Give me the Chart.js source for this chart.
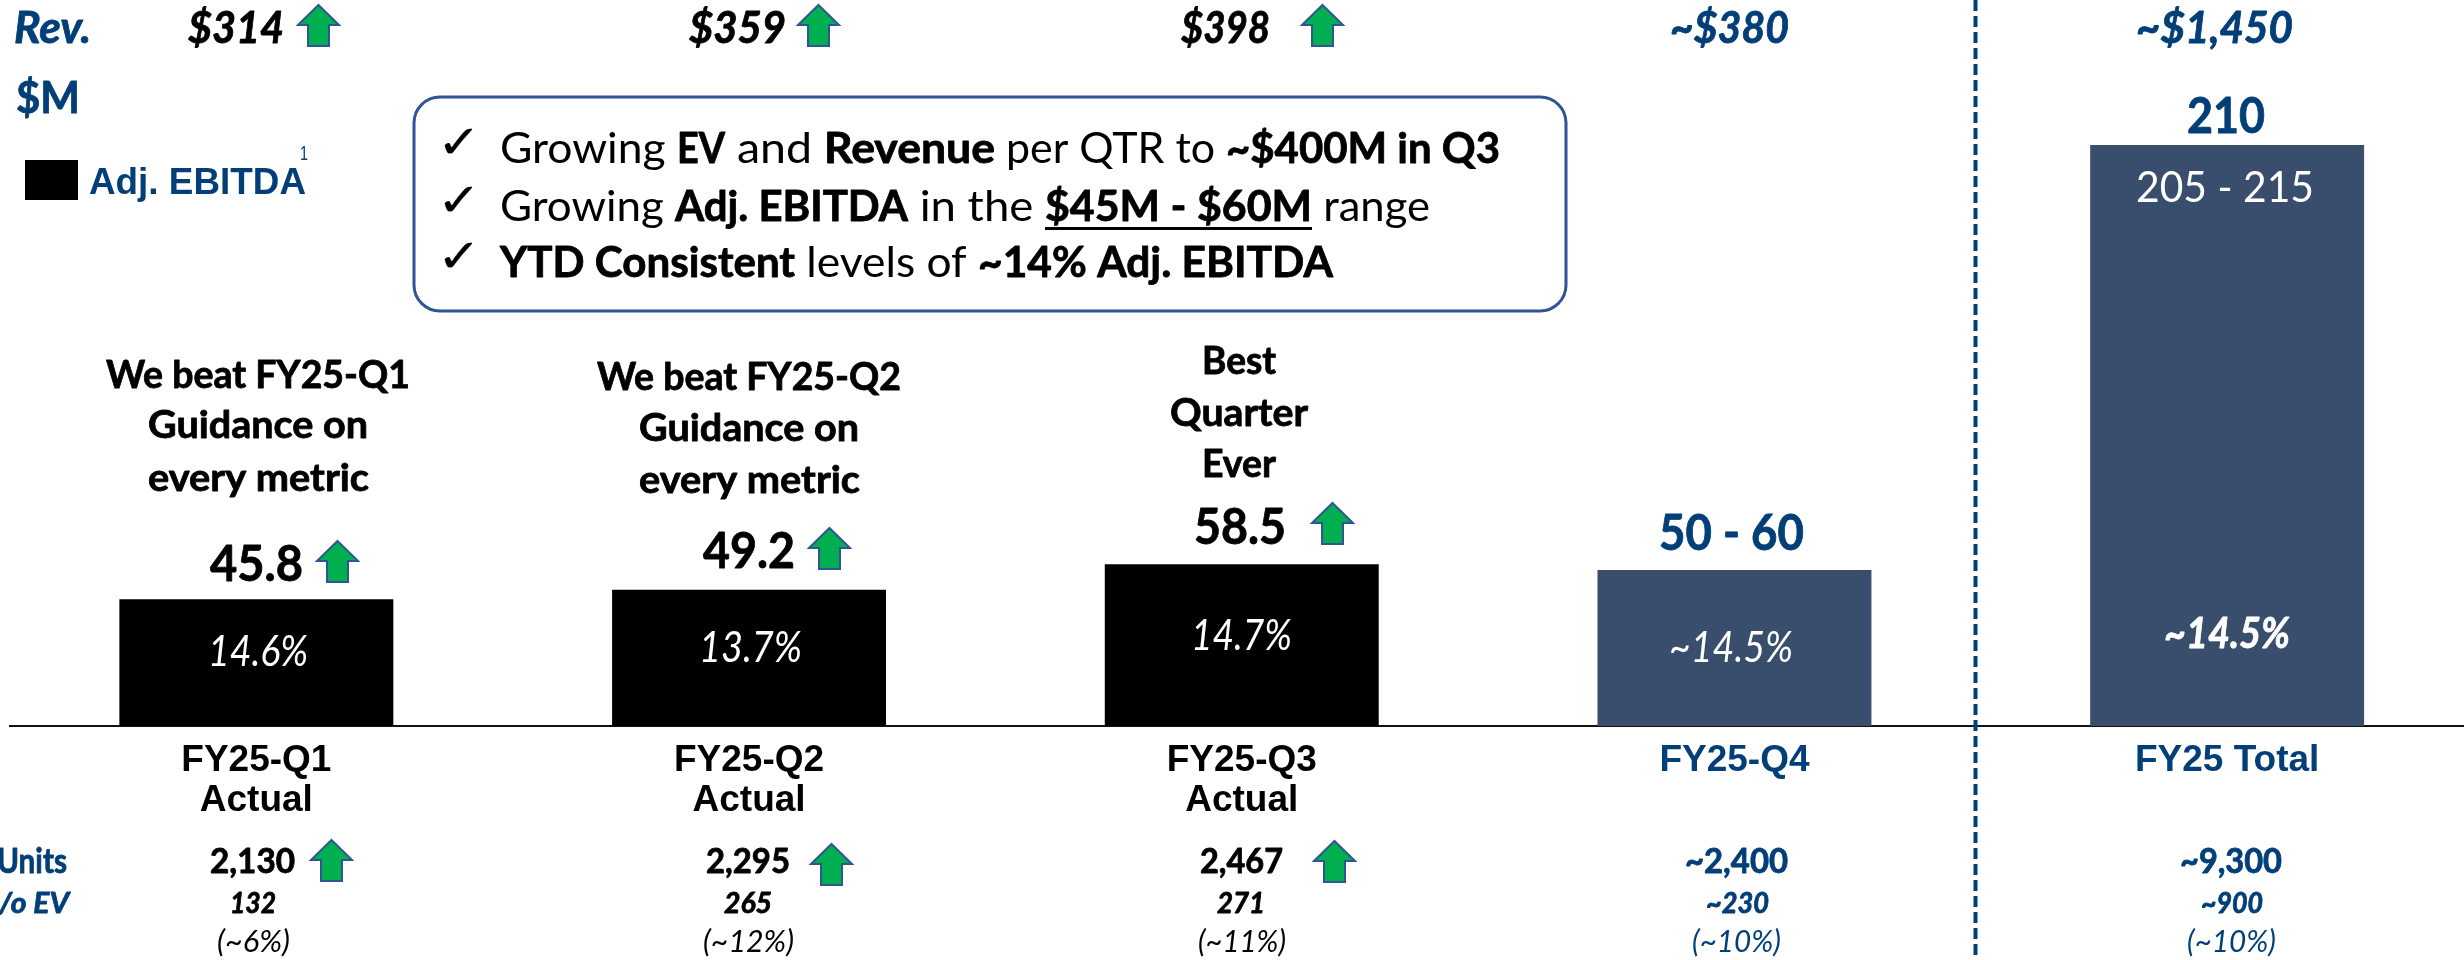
<!DOCTYPE html>
<html><head><meta charset="utf-8">
<script src="https://cdn.jsdelivr.net/npm/chart.js@4/dist/chart.umd.min.js"></script>
<style>html,body{margin:0;padding:0;background:#fff;overflow:hidden}canvas{display:block}</style>
</head><body>
<div style="position:relative;width:2464px;height:960px;overflow:hidden"><canvas id="c" width="2474" height="960"></canvas></div>
<script>
// ---- data ----
const categories = [['FY25-Q1','Actual'],['FY25-Q2','Actual'],['FY25-Q3','Actual'],'FY25-Q4','FY25 Total'];
const adjEbitda = [45.8, 49.2, 58.5, 56.4, 210];
const valueLabels = ['45.8','49.2','58.5','50 - 60','210'];
const marginLabels = ['14.6%','13.7%','14.7%','~14.5%','~14.5%'];
const revenueLabels = ['$314','$359','$398','~$380','~$1,450'];
const unitLabels = ['2,130','2,295','2,467','~2,400','~9,300'];
const evLabels = ['132','265','271','~230','~900'];
const evPctLabels = ['(~6%)','(~12%)','(~11%)','(~10%)','(~10%)'];
const noteLines = [['We beat FY25-Q1','Guidance on','every metric'],['We beat FY25-Q2','Guidance on','every metric'],['Best','Quarter','Ever']];
const boxLines = [
  [['Growing ',0],['EV',1],[' and ',0],['Revenue',1],[' per QTR to ',0],['~$400M in Q3',1]],
  [['Growing ',0],['Adj. EBITDA',1],[' in the ',0],['$45M - $60M',2],[' range',0]],
  [['YTD Consistent',1],[' levels of ',0],['~14% Adj. EBITDA',1]]
];
const rangeLabel = '205 - 215';
const seriesName = 'Adj. EBITDA';

// ---- styling / layout (not data) ----
const NAVY='#023f78', BAR='#394d6d', GREEN='#00B050', EDGE='#2F5597';
const barColors=['#000','#000','#000',BAR,BAR];
const ink=i=>i<3?'#000':NAVY;
const L=(s,w=400,it=false)=>`${it?'italic ':''}${w} ${s}px Lato`;
const A=(s)=>`700 ${s}px "Liberation Sans"`;
const revX=[[188,284],[689,786],[1181,1270],[1670,1789],[2136,2293]];
const valX=[[210,303],[703,795],[1194,1286],[1659,1804],[2187,2265]];
const valY=[581,568,544,550,133];
const marX=[[208,308],[699,802],[1191,1292],[1669,1793],[2164,2290]];
const marY=[666,662,650,662,648];
const unitX=[[210,295],[706,790],[1200,1283],[1685,1788],[2180,2282]];
const evX=[[230,276],[724,772],[1217,1265],[1706,1769],[2201,2263]];
const pctX=[[217,290],[703,794],[1198,1286],[1692,1781],[2187,2276]];
const noteX=[[[106,410],[148,368],[148,369]],[[597,901],[639,859],[639,860]],[[1202,1276],[1170,1308],[1202,1276]]];
const noteY=[[388,438,491],[390,441,493],[374,426,477]];
const arrows=[[298,5],[798,5],[1302,5],[317,541],[809,528],[1312,503],[311,840],[811,844],[1314,841]];
const boxY=[163,221,277];
const runStops=[[500,677,725,824,995,1226,1500],[500,675,908,1045,1312,1430],[500,795,978,1333]];

function T(c,text,x0,x1,y,font,color,heavy){
  c.save();c.font=font;c.fillStyle=color;c.textAlign='left';c.textBaseline='alphabetic';
  const w=c.measureText(text).width;
  c.translate(x0,y);c.scale((x1-x0)/w,1);c.fillText(text,0,0);
  if(heavy===undefined&&font.includes('700')&&font.includes('Lato'))heavy=0.8;
  if(heavy){c.strokeStyle=color;c.lineWidth=heavy;c.lineJoin='round';c.strokeText(text,0,0);}
  c.restore();
}
function arrow(c,x,y){
  c.save();c.beginPath();
  c.moveTo(x+20.5,y);c.lineTo(x+41,y+20);c.lineTo(x+31,y+20);c.lineTo(x+31,y+41);
  c.lineTo(x+10,y+41);c.lineTo(x+10,y+20);c.lineTo(x,y+20);c.closePath();
  c.fillStyle=GREEN;c.fill();c.strokeStyle=EDGE;c.lineWidth=2;c.lineJoin='miter';c.stroke();c.restore();
}
const overlay={id:'overlay',afterDraw(ch){
  const c=ch.ctx;
  // header + legend
  T(c,'Rev.',14,91,43,L(43,700,true),NAVY);
  T(c,'$M',16,80,113,L(43,700),NAVY);
  c.fillStyle='#000';c.fillRect(25,160,53,40);
  T(c,seriesName,89,306,194,A(36),NAVY);
  T(c,'1',300,308,160,'400 20px "Liberation Sans"',NAVY);
  T(c,'Units',-3,67,873,L(34,700),NAVY);
  T(c,'/o EV',-1,69,913,L(29,700,true),NAVY);
  // per-category rows
  revenueLabels.forEach((s,i)=>T(c,s,revX[i][0],revX[i][1],43,L(43,700,true),ink(i)));
  valueLabels.forEach((s,i)=>T(c,s,valX[i][0],valX[i][1],valY[i],L(49,700),ink(i)));
  marginLabels.forEach((s,i)=>T(c,s,marX[i][0],marX[i][1],marY[i],L(42,i==4?700:400,true),'#fff'));
  unitLabels.forEach((s,i)=>T(c,s,unitX[i][0],unitX[i][1],873,L(34,700),ink(i)));
  evLabels.forEach((s,i)=>T(c,s,evX[i][0],evX[i][1],913,L(28,700,true),ink(i)));
  evPctLabels.forEach((s,i)=>T(c,s,pctX[i][0],pctX[i][1],952,L(31,400,true),ink(i)));
  noteLines.forEach((ls,i)=>ls.forEach((s,j)=>T(c,s,noteX[i][j][0],noteX[i][j][1],noteY[i][j],L(38,700),'#000')));
  T(c,rangeLabel,2136,2314,202,L(43,400),'#fff');
  // callout box
  c.save();c.beginPath();c.roundRect(414,97,1152,214,26);c.fillStyle='#fff';c.fill();
  c.strokeStyle=EDGE;c.lineWidth=3;c.stroke();c.restore();
  boxLines.forEach((runs,k)=>{
    T(c,'✓',437,481,boxY[k]-5,'400 46px "DejaVu Sans"','#000',0.3);
    const st=runStops[k];
    runs.forEach((r,j)=>{
      T(c,r[0],st[j],st[j+1],boxY[k],L(42,r[1]?700:400),'#000');
      if(r[1]===2){c.fillStyle='#000';c.fillRect(st[j],boxY[k]+6,st[j+1]-st[j],3);}
    });
  });
  arrows.forEach(a=>arrow(c,a[0],a[1]));
  // divider
  c.save();c.strokeStyle=NAVY;c.lineWidth=4;c.setLineDash([11,5]);
  c.beginPath();c.moveTo(1975.5,0);c.lineTo(1975.5,956);c.stroke();c.restore();
}};
new Chart(document.getElementById('c'),{
  type:'bar',
  data:{labels:categories,datasets:[{label:seriesName,data:adjEbitda,backgroundColor:barColors,borderWidth:0,barPercentage:0.556,categoryPercentage:1}]},
  options:{
    responsive:false,animation:false,
    layout:{padding:{left:10,right:0.5,top:34.25,bottom:0}},
    plugins:{legend:{display:false},tooltip:{enabled:false}},
    scales:{
      x:{type:'category',afterFit:s=>{s.height=234;},
        grid:{display:false,drawTicks:false},
        border:{display:true,color:'#111',width:2},
        ticks:{autoSkip:false,maxRotation:0,minRotation:0,padding:15,
          font:{family:'"Liberation Sans"',weight:'700',size:37,lineHeight:1.08},
          color:c=>ink(c.index)}},
      y:{display:false,min:0,max:250}
    }
  },
  plugins:[overlay]
});
</script>
</body></html>
